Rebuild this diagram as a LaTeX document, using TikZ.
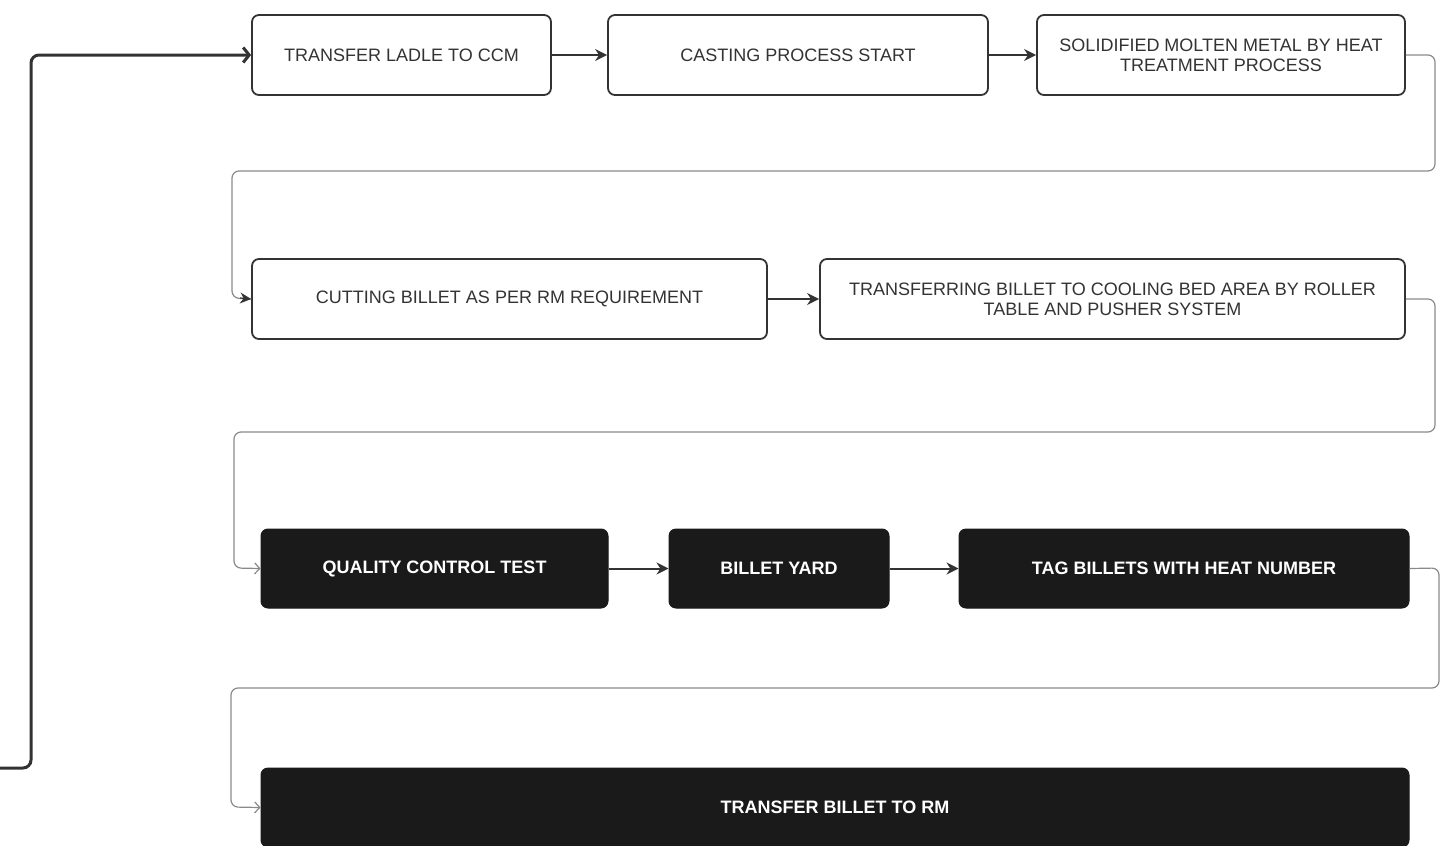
\documentclass[tikz,border=0pt]{standalone}
\usepackage{fontspec}
\setmainfont{Liberation Sans}
\usetikzlibrary{arrows.meta}
\definecolor{ink}{HTML}{333333}
\definecolor{blk}{HTML}{1A1A1A}
\definecolor{gry}{HTML}{8A8A8A}
\begin{document}
\begin{tikzpicture}[x=1pt,y=-1pt,
  wbox/.style={draw=ink, line width=1.8pt, rounded corners=7pt, fill=white, text=ink,
     font=\fontsize{18}{20}\selectfont, align=center, inner sep=0pt, minimum height=80pt},
  bbox/.style={draw=blk, line width=1pt, rounded corners=7pt, fill=blk, text=white,
     font=\fontsize{18}{20}\selectfont\bfseries, align=center, inner sep=0pt, minimum height=79pt},
  flow/.style={draw=ink, line width=2pt, -{Stealth[length=12pt,width=12pt]}},
  flowb/.style={draw=ink, line width=2.8pt, -{Stealth[length=12pt,width=12pt]}},
  link/.style={draw=gry, line width=1.2pt, rounded corners=7pt},
]
\useasboundingbox (0,0) rectangle (1449,846);
% row 1
\node[wbox, minimum width=299pt] (A) at (401.5,55) {TRANSFER LADLE TO CCM};
\node[wbox, minimum width=380pt] (B) at (798,55) {CASTING PROCESS START};
\node[wbox, minimum width=368pt] (C) at (1221,55) {SOLIDIFIED MOLTEN METAL BY HEAT\\TREATMENT PROCESS};
% row 2
\node[wbox, minimum width=515pt] (D) at (509.5,299) {CUTTING BILLET AS PER RM REQUIREMENT};
\node[wbox, minimum width=585pt] (E) at (1112.5,299) {TRANSFERRING BILLET TO COOLING BED AREA BY ROLLER\\TABLE AND PUSHER SYSTEM};
% row 3
\node[bbox, minimum width=347pt] (F) at (434.5,568.5) {QUALITY CONTROL TEST};
\node[bbox, minimum width=220pt] (G) at (779,568.5) {BILLET YARD};
\node[bbox, minimum width=450pt] (H) at (1184,568.5) {TAG BILLETS WITH HEAT NUMBER};
% row 4
\node[bbox, minimum width=1148pt] (I) at (835,807.5) {TRANSFER BILLET TO RM};
% straight arrows
\draw[flow] (A.east) -- (B.west);
\draw[flowb] (B.east) -- (C.west);
\draw[flowb] (D.east) -- (E.west);
\draw[flow] (F.east) -- (G.west);
\draw[flow] (G.east) -- (H.west);
% wrap connectors
\draw[link] (C.east) -- (1435,55) -- (1435,171) -- (232,171) -- (232,298) -- (D.west);
\draw[draw=ink, line width=1.2pt, -{Stealth[length=11pt,width=11pt]}] (240,298) -- (D.west);
\draw[link, -{Straight Barb[length=5pt,width=11pt]}] (E.east) -- (1435,299) -- (1435,432) -- (234,432) -- (234,568) -- (F.west);
\draw[link, -{Straight Barb[length=5pt,width=11pt]}] (H.east) -- (1439,568) -- (1439,688) -- (231,688) -- (231,807) -- (I.west);
% feedback loop
\coordinate (S) at (0,768);
\draw[draw=ink, line width=3pt, rounded corners=8pt, -{Straight Barb[length=6pt,width=15pt]}] (S) -- (31,768) -- (31,55) -- (A.west);
\end{tikzpicture}
\end{document}
